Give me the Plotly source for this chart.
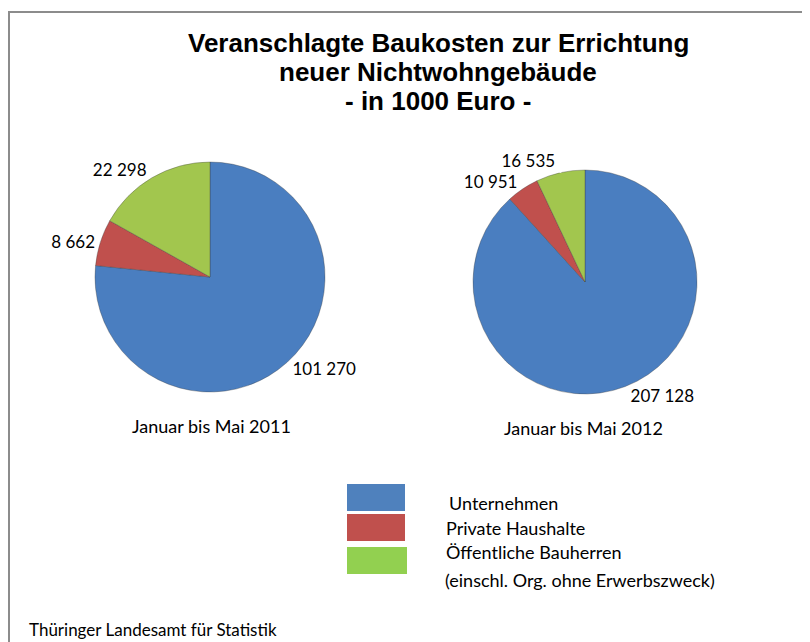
import plotly.graph_objects as go

categories = ["Unternehmen", "Private Haushalte", "Öffentliche Bauherren"]
legend_extra = "(einschl. Org. ohne Erwerbszweck)"
periods = ["Januar bis Mai 2011", "Januar bis Mai 2012"]
values_2011 = [101270, 8662, 22298]
values_2012 = [207128, 10951, 16535]
title_lines = ["Veranschlagte Baukosten zur Errichtung", "neuer Nichtwohngebäude", "- in 1000 Euro -"]
source = "Thüringer Landesamt für Statistik"

pie_colors = ["#4A7EC0", "#C0504D", "#A2C64E"]
legend_colors = ["#4F81BD", "#C0504D", "#92D050"]

W, H = 810, 642
OFF = 8  # page body margin offset
FONT = "Lato, 'Open Sans', sans-serif"
TFONT = "'Liberation Sans', Arial, sans-serif"


def fmt(v):
    return f"{v:,}".replace(",", " ")


def px_x(x):
    return (x - OFF) / W


def px_y(y):
    return 1 - (y - OFF) / H


fig = go.Figure()
# pie boxes: (cx, cy, r) in page pixels
pie_boxes = [(210, 277, 115), (585, 282, 112)]
for vals, (cx, cy, r) in zip([values_2011, values_2012], pie_boxes):
    fig.add_trace(go.Pie(
        labels=categories,
        values=vals,
        text=["<span style='color:#000000'>" + fmt(v) + "</span>" for v in vals],
        textinfo="text",
        textposition="outside",
        textfont=dict(family=FONT, size=17, color="#000000"),
        outsidetextfont=dict(family=FONT, size=17, color="#ffffff"),
        sort=False,
        direction="clockwise",
        rotation=0,
        marker=dict(colors=pie_colors, line=dict(color="rgba(60,60,60,0.35)", width=1)),
        domain=dict(x=[px_x(cx - r), px_x(cx + r)], y=[px_y(cy + r), px_y(cy - r)]),
        showlegend=False,
        hoverinfo="label+value",
    ))

annotations = []
for line, ty in zip(title_lines, [43, 72, 101]):
    annotations.append(dict(text="<b>" + line + "</b>", x=px_x(438), y=px_y(ty),
                            xref="paper", yref="paper", showarrow=False, xanchor="center",
                            yanchor="middle", font=dict(family=TFONT, size=26, color="#000000")))
annotations += [
    dict(text=periods[0], x=px_x(212), y=px_y(426), xref="paper", yref="paper", showarrow=False,
         xanchor="center", yanchor="middle", font=dict(family=FONT, size=18, color="#000000")),
    dict(text=periods[1], x=px_x(583), y=px_y(428), xref="paper", yref="paper", showarrow=False,
         xanchor="center", yanchor="middle", font=dict(family=FONT, size=18, color="#000000")),
    dict(text=source, x=px_x(27), y=px_y(629), xref="paper", yref="paper", showarrow=False,
         xanchor="left", yanchor="middle", font=dict(family=FONT, size=17, color="#000000")),
]

shapes = [
    dict(type="rect", xref="paper", yref="paper", x0=px_x(9), x1=1.05, y0=-0.05, y1=px_y(12),
         line=dict(color="#8C8C8C", width=2), fillcolor="rgba(0,0,0,0)"),
]

legend_boxes = [(484, 511), (514, 541), (547, 574)]
legend_text_y = [503, 528, 552]
for i, (cat, col) in enumerate(zip(categories, legend_colors)):
    y0, y1 = legend_boxes[i]
    shapes.append(dict(type="rect", xref="paper", yref="paper",
                       x0=px_x(347), x1=px_x(405 if i < 2 else 407), y0=px_y(y1), y1=px_y(y0),
                       line=dict(width=0), fillcolor=col))
    annotations.append(dict(text=cat, x=px_x(444 if i else 447), y=px_y(legend_text_y[i]),
                            xref="paper", yref="paper",
                            showarrow=False, xanchor="left", yanchor="middle",
                            font=dict(family=FONT, size=18, color="#000000")))
annotations.append(dict(text=legend_extra, x=px_x(443), y=px_y(580), xref="paper", yref="paper",
                        showarrow=False, xanchor="left", yanchor="middle",
                        font=dict(family=FONT, size=18, color="#000000")))

fig.update_layout(
    width=W, height=H,
    margin=dict(l=0, r=0, t=0, b=0),
    paper_bgcolor="white", plot_bgcolor="white",
    annotations=annotations, shapes=shapes,
    font=dict(family=FONT),
)
fig.write_html("out.html")
